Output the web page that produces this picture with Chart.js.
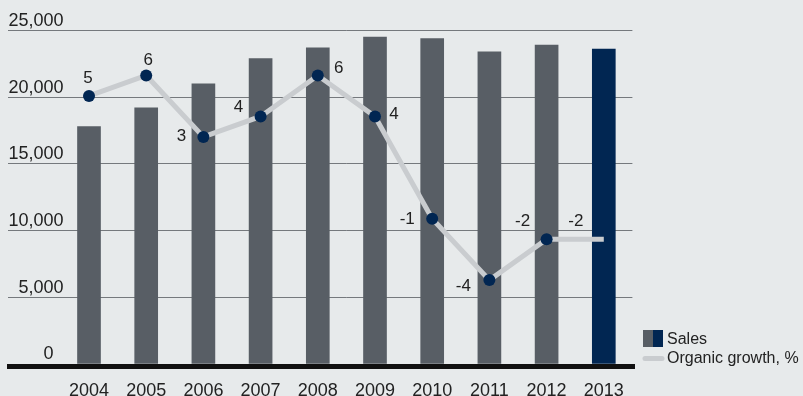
<!DOCTYPE html>
<html>
<head>
<meta charset="utf-8">
<title>Sales and organic growth</title>
<script src="https://cdn.jsdelivr.net/npm/chart.js@4.4.1/dist/chart.umd.min.js"></script>
<style>
  html, body { margin: 0; padding: 0; background: #e7eaeb; }
  #wrap { width: 803px; height: 396px; position: relative; }
</style>
</head>
<body>
<div id="wrap"><canvas id="sales-chart"></canvas></div>
<script>
// sales.js

const years = ['2004', '2005', '2006', '2007', '2008', '2009', '2010', '2011', '2012', '2013'];
const sales = [17800, 19200, 21000, 22900, 23700, 24500, 24400, 23400, 23900, 23600];
const organicGrowth = [5, 6, 3, 4, 6, 4, -1, -4, -2, -2];
const salesTicks = [0, 5000, 10000, 15000, 20000, 25000];

const GREY_BAR = '#585e65';
const NAVY = '#012652';
const GROWTH_LINE = '#c9cccf';
const GRID = '#75797d';
const TEXT = '#222222';
const FONT = '"Liberation Sans", Arial, Helvetica, sans-serif';

// where each growth label sits relative to its point (dx, dy)
const growthLabelShift = [
    [-1, -18], [2, -15], [-22, -1], [-22, -9], [21, -7],
    [19, -2], [-25, 1], [-26, 6], [-24, -18], [-28, -18]
];

const barColors = sales.map((v, i) => i === sales.length - 1 ? NAVY : GREY_BAR);
// no marker on the latest year, the line just runs into it
const pointSizes = organicGrowth.map((v, i) => i === organicGrowth.length - 1 ? 0 : 6);

// thick black base under the bars, running past the plot on both sides
const baseLine = {
    id: 'baseLine',
    afterDatasetsDraw(chart) {
        const { ctx, chartArea, scales } = chart;
        const y0 = scales.y.getPixelForValue(0);
        ctx.save();
        ctx.fillStyle = '#111111';
        ctx.fillRect(chartArea.left - 53.4, y0, chartArea.right - chartArea.left + 56, 5);
        ctx.restore();
    }
};

// growth numbers next to the points
const growthLabels = {
    id: 'growthLabels',
    afterDatasetsDraw(chart) {
        const { ctx } = chart;
        const meta = chart.getDatasetMeta(1);
        ctx.save();
        ctx.font = '17px ' + FONT;
        ctx.fillStyle = TEXT;
        ctx.textAlign = 'center';
        ctx.textBaseline = 'middle';
        meta.data.forEach((pt, i) => {
            const [dx, dy] = growthLabelShift[i];
            ctx.fillText(String(organicGrowth[i]), pt.x + dx, pt.y + dy);
        });
        ctx.restore();
    }
};

// legend in the lower right corner
const sideLegend = {
    id: 'sideLegend',
    afterDraw(chart) {
        const { ctx, chartArea } = chart;
        const x = chartArea.right + 10.6;
        const bottom = chartArea.bottom;
        ctx.save();
        ctx.fillStyle = GREY_BAR;
        ctx.fillRect(x, bottom - 34, 10, 17);
        ctx.fillStyle = NAVY;
        ctx.fillRect(x + 10, bottom - 34, 10, 17);

        ctx.strokeStyle = GROWTH_LINE;
        ctx.lineWidth = 5;
        ctx.lineCap = 'round';
        ctx.beginPath();
        ctx.moveTo(x + 2, bottom - 5.5);
        ctx.lineTo(x + 19, bottom - 5.5);
        ctx.stroke();

        ctx.font = '16px ' + FONT;
        ctx.fillStyle = TEXT;
        ctx.textAlign = 'left';
        ctx.textBaseline = 'middle';
        ctx.fillText('Sales', x + 24, bottom - 24);
        ctx.fillText('Organic growth, %', x + 24, bottom - 5);
        ctx.restore();
    }
};

const ctx = document.getElementById('sales-chart').getContext('2d');

const salesChart = new Chart(ctx, {
    type: 'bar',
    data: {
        labels: years,
        datasets: [{
            label: 'Sales',
            data: sales,
            backgroundColor: barColors,
            barThickness: 23,
            yAxisID: 'y',
            order: 2
        }, {
            type: 'line',
            label: 'Organic growth, %',
            data: organicGrowth,
            borderColor: GROWTH_LINE,
            borderWidth: 5,
            pointRadius: pointSizes,
            pointBackgroundColor: NAVY,
            pointBorderWidth: 0,
            tension: 0,
            yAxisID: 'growth',
            order: 1
        }]
    },
    options: {
        responsive: true,
        maintainAspectRatio: false,
        animation: false,
        layout: {
            padding: { left: 8, right: 170.6, top: 30.5, bottom: 0 }
        },
        plugins: {
            legend: { display: false },
            tooltip: { enabled: false }
        },
        scales: {
            x: {
                grid: { display: false },
                border: { display: false },
                ticks: {
                    color: TEXT,
                    font: { family: FONT, size: 18 },
                    padding: 8,
                    maxRotation: 0,
                    autoSkip: false
                },
                afterFit: axis => { axis.height = 32; }
            },
            y: {
                min: 0,
                max: 25000,
                border: { display: false },
                grid: { color: GRID, lineWidth: 1, drawTicks: true, tickLength: 52.4 },
                afterBuildTicks: axis => { axis.ticks = salesTicks.map(v => ({ value: v })); },
                afterFit: axis => { axis.width = 52.4; },
                ticks: {
                    // mirrored so the labels are not clipped to the axis box,
                    // right edges end just inside the plot
                    mirror: true,
                    crossAlign: 'far',
                    color: TEXT,
                    font: { family: FONT, size: 18 },
                    padding: -52,
                    labelOffset: -9.5,
                    callback: v => v === 0 ? '0  ' : v.toLocaleString('en-US')
                }
            },
            growth: {
                display: false,
                min: -8.1,
                max: 8.2
            }
        }
    },
    plugins: [baseLine, growthLabels, sideLegend]
});
</script>
</body>
</html>
